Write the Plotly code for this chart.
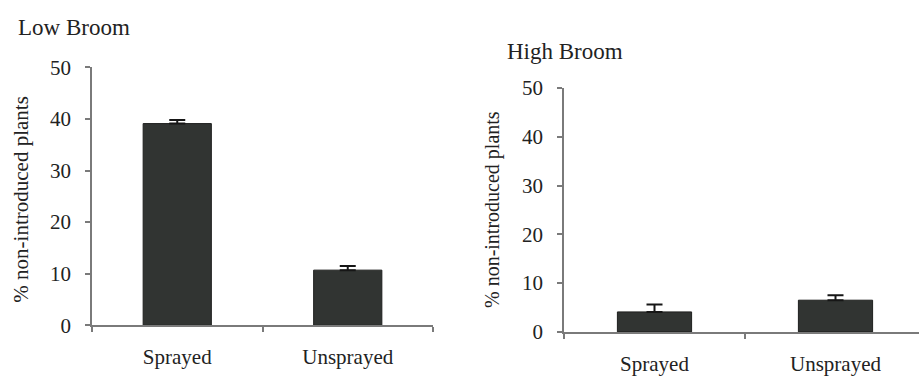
import plotly.graph_objects as go

# Percentage of non-introduced plants, by treatment, at two broom densities
categories = ["Sprayed", "Unsprayed"]
low_broom_mean = [39.1, 10.7]
low_broom_err = [0.7, 0.8]
high_broom_mean = [4.1, 6.5]
high_broom_err = [1.5, 1.0]
y_ticks = [0, 10, 20, 30, 40, 50]

W, H = 919, 388
FONT = "Liberation Serif, Times New Roman, serif"
BAR = "#313432"
AXIS = "#7a7a7a"
TEXT = "#222222"


def px_x(v):
    return v / W


def px_y(v):
    return (H - v) / H


def upper_err(values):
    # only the upper whisker shows above the dark bar
    return dict(type="data", symmetric=False, array=values,
                arrayminus=[0] * len(values), visible=True,
                color="#161616", thickness=2, width=8)


fig = go.Figure()

fig.add_trace(go.Bar(
    x=categories, y=low_broom_mean, width=0.4,
    marker=dict(color=BAR, line=dict(color="#1e1f1e", width=1)),
    error_y=upper_err(low_broom_err),
    xaxis="x", yaxis="y", showlegend=False,
))
fig.add_trace(go.Bar(
    x=categories, y=high_broom_mean, width=0.41,
    marker=dict(color=BAR, line=dict(color="#1e1f1e", width=1)),
    error_y=upper_err(high_broom_err),
    xaxis="x2", yaxis="y2", showlegend=False,
))

common_x = dict(
    type="category", tickson="boundaries", ticks="outside", ticklen=5,
    tickcolor=AXIS, tickwidth=1.5, showline=True, linecolor=AXIS,
    linewidth=1.5, showgrid=False, zeroline=False,
    tickfont=dict(family=FONT, size=21, color=TEXT),
    ticklabelstandoff=12, fixedrange=True,
)
common_y = dict(
    range=[0, 50], tickvals=y_ticks, ticks="outside", ticklen=5,
    tickcolor=AXIS, tickwidth=1.5, showline=True, linecolor=AXIS,
    linewidth=1.5, showgrid=False, zeroline=False,
    tickfont=dict(family=FONT, size=21, color=TEXT),
    ticklabelstandoff=10,
)

fig.update_layout(
    width=W, height=H,
    margin=dict(l=0, r=0, t=0, b=0),
    paper_bgcolor="white", plot_bgcolor="white",
    xaxis=dict(domain=[px_x(92), px_x(433)], range=[-0.5, 1.5],
               anchor="y", **common_x),
    yaxis=dict(domain=[px_y(334), px_y(59)], anchor="x", **common_y),
    xaxis2=dict(domain=[px_x(564), 1.0], range=[-0.5, -0.5 + 355 / 181],
                anchor="y2", **common_x),
    yaxis2=dict(domain=[px_y(341), px_y(81)], anchor="x2", **common_y),
    annotations=[
        dict(text="Low Broom", x=px_x(16), y=px_y(17), xref="paper",
             yref="paper", xanchor="left", yanchor="middle", showarrow=False,
             font=dict(family=FONT, size=23, color=TEXT)),
        dict(text="High Broom", x=px_x(505), y=px_y(42), xref="paper",
             yref="paper", xanchor="left", yanchor="middle", showarrow=False,
             font=dict(family=FONT, size=23, color=TEXT)),
        dict(text="% non-introduced plants", x=px_x(21), y=px_y(200),
             xref="paper", yref="paper", xanchor="center", yanchor="middle",
             textangle=-90, showarrow=False,
             font=dict(family=FONT, size=21, color=TEXT)),
        dict(text="% non-introduced plants", x=px_x(492), y=px_y(210),
             xref="paper", yref="paper", xanchor="center", yanchor="middle",
             textangle=-90, showarrow=False,
             font=dict(family=FONT, size=20, color=TEXT)),
    ],
)

fig.write_html("out.html")
